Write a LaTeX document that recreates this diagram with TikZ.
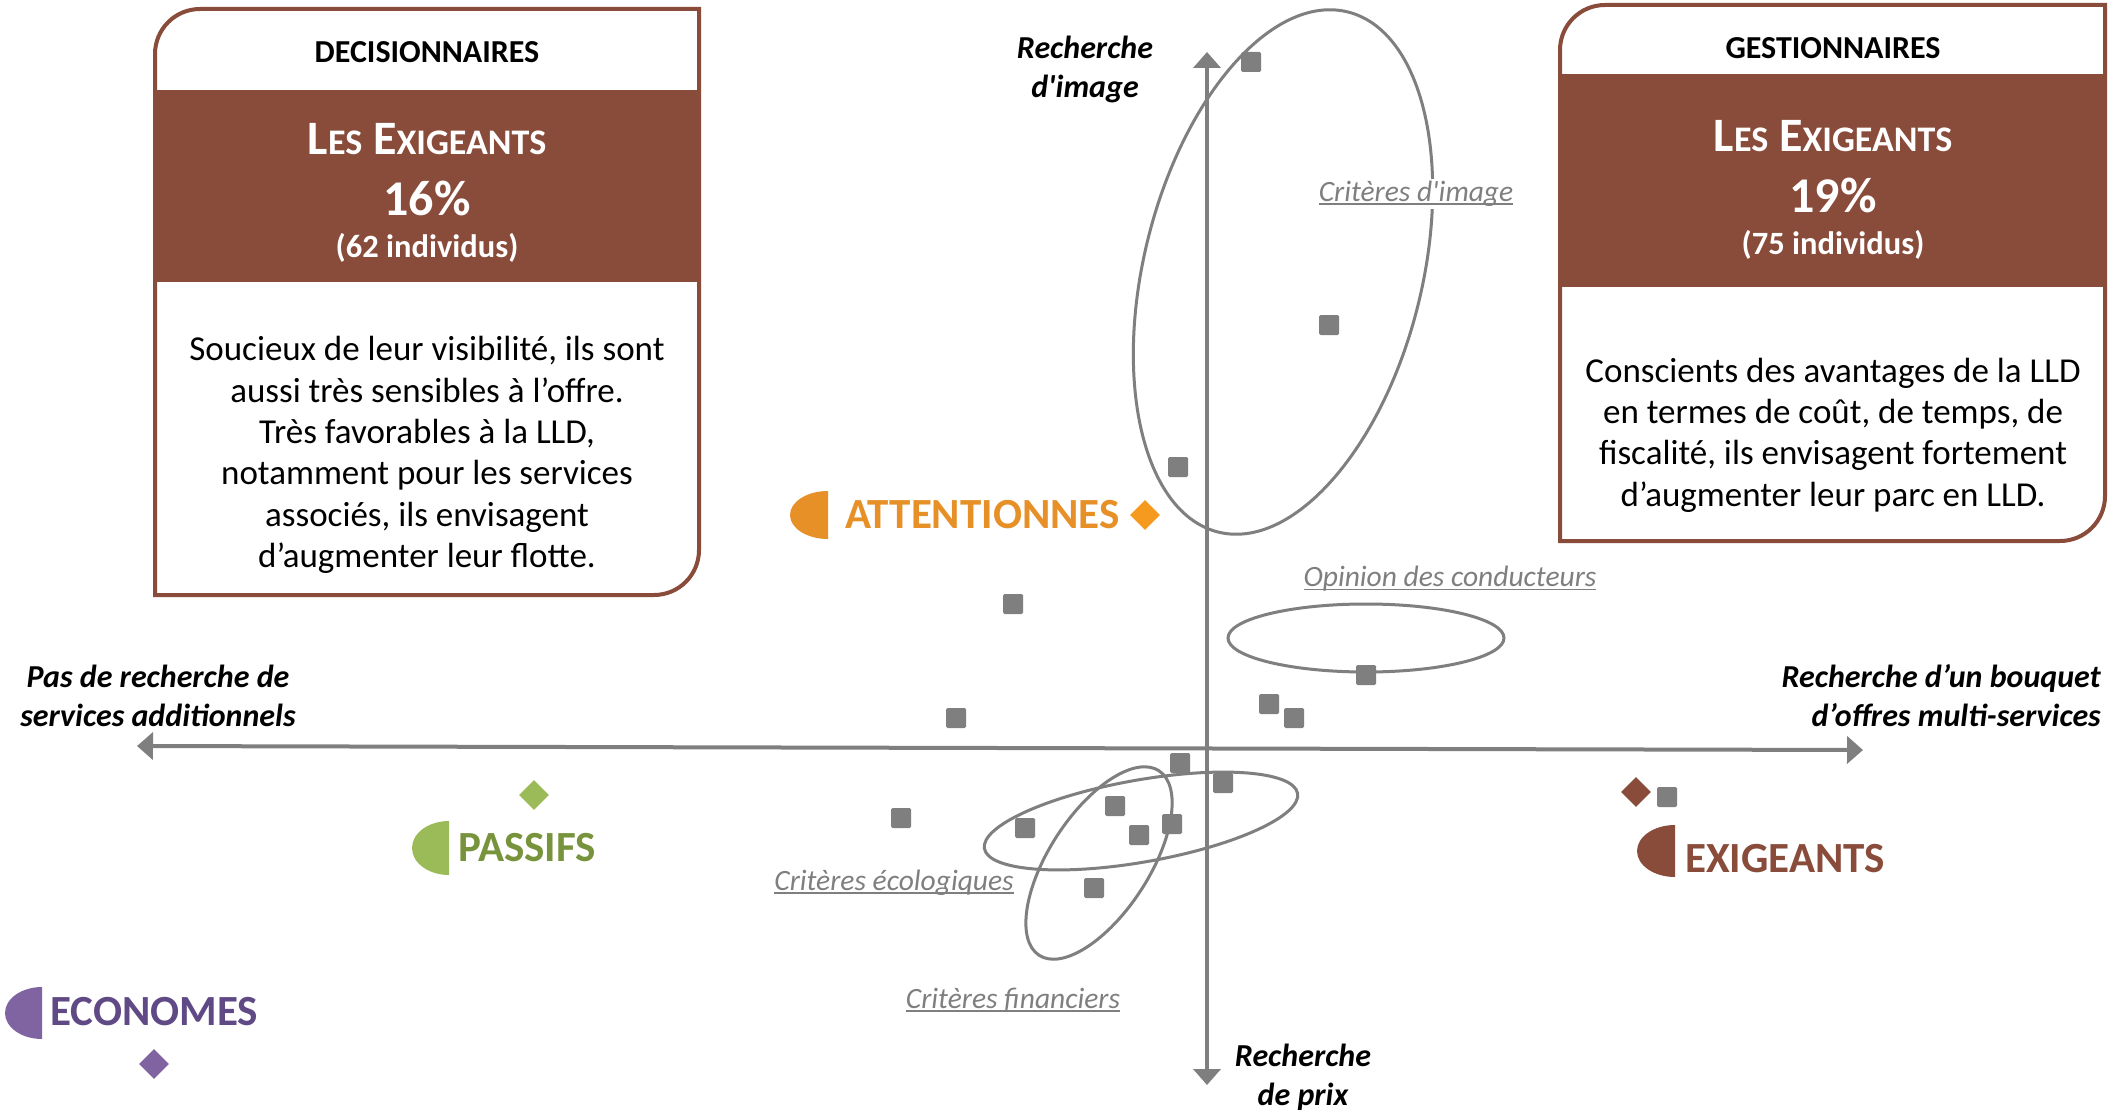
\documentclass[tikz,border=0pt]{standalone}
\usepackage{fontspec}
\setmainfont{Carlito}
\usetikzlibrary{arrows.meta,shapes.geometric}
\definecolor{brownc}{HTML}{894B3A}
\definecolor{grayc}{HTML}{7F7F7F}
\definecolor{orangeT}{HTML}{E69027}
\definecolor{orangeD}{HTML}{F59A1E}
\definecolor{greenS}{HTML}{9BBB59}
\definecolor{greenT}{HTML}{77933C}
\definecolor{purpleS}{HTML}{8064A2}
\definecolor{purpleT}{HTML}{5F4A85}
\newcommand{\mysc}[1]{{\fontsize{36}{36}\selectfont #1}}
\newcommand{\myul}[1]{\setbox0\hbox{#1}\rlap{\rule[-3.5pt]{\wd0}{1.8pt}}\box0}
\tikzset{
  boxline/.style={draw=brownc, line width=4pt},
  hdr/.style={font=\bfseries\fontsize{32}{36}\selectfont, inner sep=0pt},
  les/.style={font=\bfseries\fontsize{48}{50}\selectfont, text=white, inner sep=0pt},
  pct/.style={font=\bfseries\fontsize{50}{54}\selectfont, text=white, inner sep=0pt},
  ind/.style={font=\bfseries\fontsize{32.5}{36}\selectfont, text=white, inner sep=0pt},
  body/.style={font=\fontsize{35}{41.3}\selectfont, align=center, inner sep=0pt},
  axis/.style={draw=grayc, line width=4pt, {Triangle[width=27pt,length=16pt]}-{Triangle[width=27pt,length=16pt]}},
  axl/.style={font=\bfseries\itshape\fontsize{32}{39}\selectfont, inner sep=0pt},
  ell/.style={draw=grayc, line width=3pt},
  glbl/.style={font=\itshape\fontsize{29.5}{32}\selectfont, text=grayc, inner sep=2pt},
  sq/.style={fill=grayc, minimum size=20pt, inner sep=0pt, rounded corners=1.5pt},
  dia/.style={diamond, minimum width=30pt, minimum height=30pt, inner sep=0pt},
  lbl/.style={font=\bfseries\fontsize{43}{46}\selectfont, inner sep=0pt, anchor=west},
}
\begin{document}
\begin{tikzpicture}[x=1pt,y=1pt]
\useasboundingbox (0,0) rectangle (2114,-1110);
\fill[white] (0,0) rectangle (2114,-1110);

% ---------- left box ----------
\fill[brownc] (155,-90) rectangle (699,-282);
\draw[boxline] (155,-54) arc[start angle=180,end angle=90,radius=45pt] -- (699,-9) -- (699,-550) arc[start angle=0,end angle=-90,radius=45pt] -- (155,-595) -- cycle;
\node[hdr] (dh) at (427,-52) {DECISIONNAIRES};
\node[les] (de) at (427,-139) {L\mysc{ES} E\mysc{XIGEANTS}};
\node[pct] (dp) at (427,-198) {16\%};
\node[ind] (di) at (427,-248) {(62 individus)};
\node[body] (db) at (427,-455) {Soucieux de leur visibilité, ils sont\\aussi très sensibles à l’offre.\\Très favorables à la LLD,\\notamment pour les services\\associés, ils envisagent\\d’augmenter leur flotte.};

% ---------- right box ----------
\fill[brownc] (1560,-74) rectangle (2105,-287);
\draw[boxline] (1560,-50) arc[start angle=180,end angle=90,radius=45pt] -- (2105,-5) -- (2105,-496) arc[start angle=0,end angle=-90,radius=45pt] -- (1560,-541) -- cycle;
\node[hdr] (gh) at (1833,-48) {GESTIONNAIRES};
\node[les] (ge) at (1833,-136) {L\mysc{ES} E\mysc{XIGEANTS}};
\node[pct] (gp) at (1833,-195) {19\%};
\node[ind] (gi) at (1833,-245) {(75 individus)};
\node[body] (gb) at (1833,-435) {Conscients des avantages de la LLD\\en termes de coût, de temps, de\\fiscalité, ils envisagent fortement\\d’augmenter leur parc en LLD.};

% ---------- axes ----------
\coordinate (hl) at (137,-746);
\coordinate (hr) at (1863,-750);
\coordinate (vt) at (1207,-52);
\coordinate (vb) at (1207,-1085);
\draw[axis] (hl) -- (hr);
\draw[axis] (vb) -- (vt);

\node[axl, align=center] (lim) at (1085,-69) {Recherche\\d\textquotesingle image};
\node[axl, align=center] (lpr) at (1303,-1077) {Recherche\\de prix};
\node[axl, align=center] (lle) at (158,-696) {Pas de recherche de\\services additionnels};
\node[axl, align=right, anchor=east] (lri) at (2101,-696) {Recherche d’un bouquet\\d’offres multi-services};

% ---------- ellipses ----------
\draw[ell, rotate around={-14:(1283,-272)}] (1283,-272) ellipse[x radius=139pt, y radius=268pt];
\draw[ell] (1366,-638) ellipse[x radius=138pt, y radius=34pt];
\draw[ell, rotate around={10:(1141,-821)}] (1141,-821) ellipse[x radius=159pt, y radius=41pt];
\draw[ell, rotate around={-33:(1099,-863)}] (1099,-863) ellipse[x radius=50pt, y radius=110pt];

\node[glbl, fill=white] (cimg) at (1416,-194) {\myul{Critères d\textquotesingle image}};
\node[glbl] (cop) at (1450,-579) {\myul{Opinion des conducteurs}};
\node[glbl] (ceco) at (894,-883) {\myul{Critères écologiques}};
\node[glbl] (cfin) at (1013,-1000) {\myul{Critères financiers}};

% ---------- squares ----------
\node[sq] (s1) at (1251,-62) {};
\node[sq] (s2) at (1329,-325) {};
\node[sq] (s3) at (1178,-467) {};
\node[sq] (s4) at (1013,-604) {};
\node[sq] (s5) at (1366,-675) {};
\node[sq] (s6) at (1269,-704) {};
\node[sq] (s7) at (1294,-718) {};
\node[sq] (s8) at (956,-718) {};
\node[sq] (s9) at (1180,-763) {};
\node[sq] (s10) at (1223,-783) {};
\node[sq] (s11) at (1115,-806) {};
\node[sq] (s12) at (901,-818) {};
\node[sq] (s13) at (1025,-828) {};
\node[sq] (s14) at (1172,-824) {};
\node[sq] (s15) at (1139,-835) {};
\node[sq] (s16) at (1094,-888) {};
\node[sq] (s17) at (1667,-797) {};

% ---------- group labels ----------
\fill[orangeT] (828,-491) arc[start angle=90,end angle=270,x radius=38pt,y radius=24pt] -- cycle;
\node[lbl, text=orangeT] (att) at (845,-515) {ATTENTIONNES};
\node[dia, fill=orangeD] (attd) at (1145,-515) {};

\fill[greenS] (449,-821) arc[start angle=90,end angle=270,x radius=37pt,y radius=27pt] -- cycle;
\node[lbl, text=greenT] (pas) at (458,-848) {PASSIFS};
\node[dia, fill=greenS] (pasd) at (534,-795) {};

\fill[purpleS] (42,-987) arc[start angle=90,end angle=270,x radius=37pt,y radius=26pt] -- cycle;
\node[lbl, text=purpleT] (eco) at (50,-1012) {ECONOMES};
\node[dia, fill=purpleS] (ecod) at (154,-1064) {};

\fill[brownc] (1675,-825) arc[start angle=90,end angle=270,x radius=38pt,y radius=26pt] -- cycle;
\node[lbl, text=brownc] (exi) at (1685,-859) {EXIGEANTS};
\node[dia, fill=brownc] (exid) at (1636,-792) {};
\end{tikzpicture}
\end{document}
